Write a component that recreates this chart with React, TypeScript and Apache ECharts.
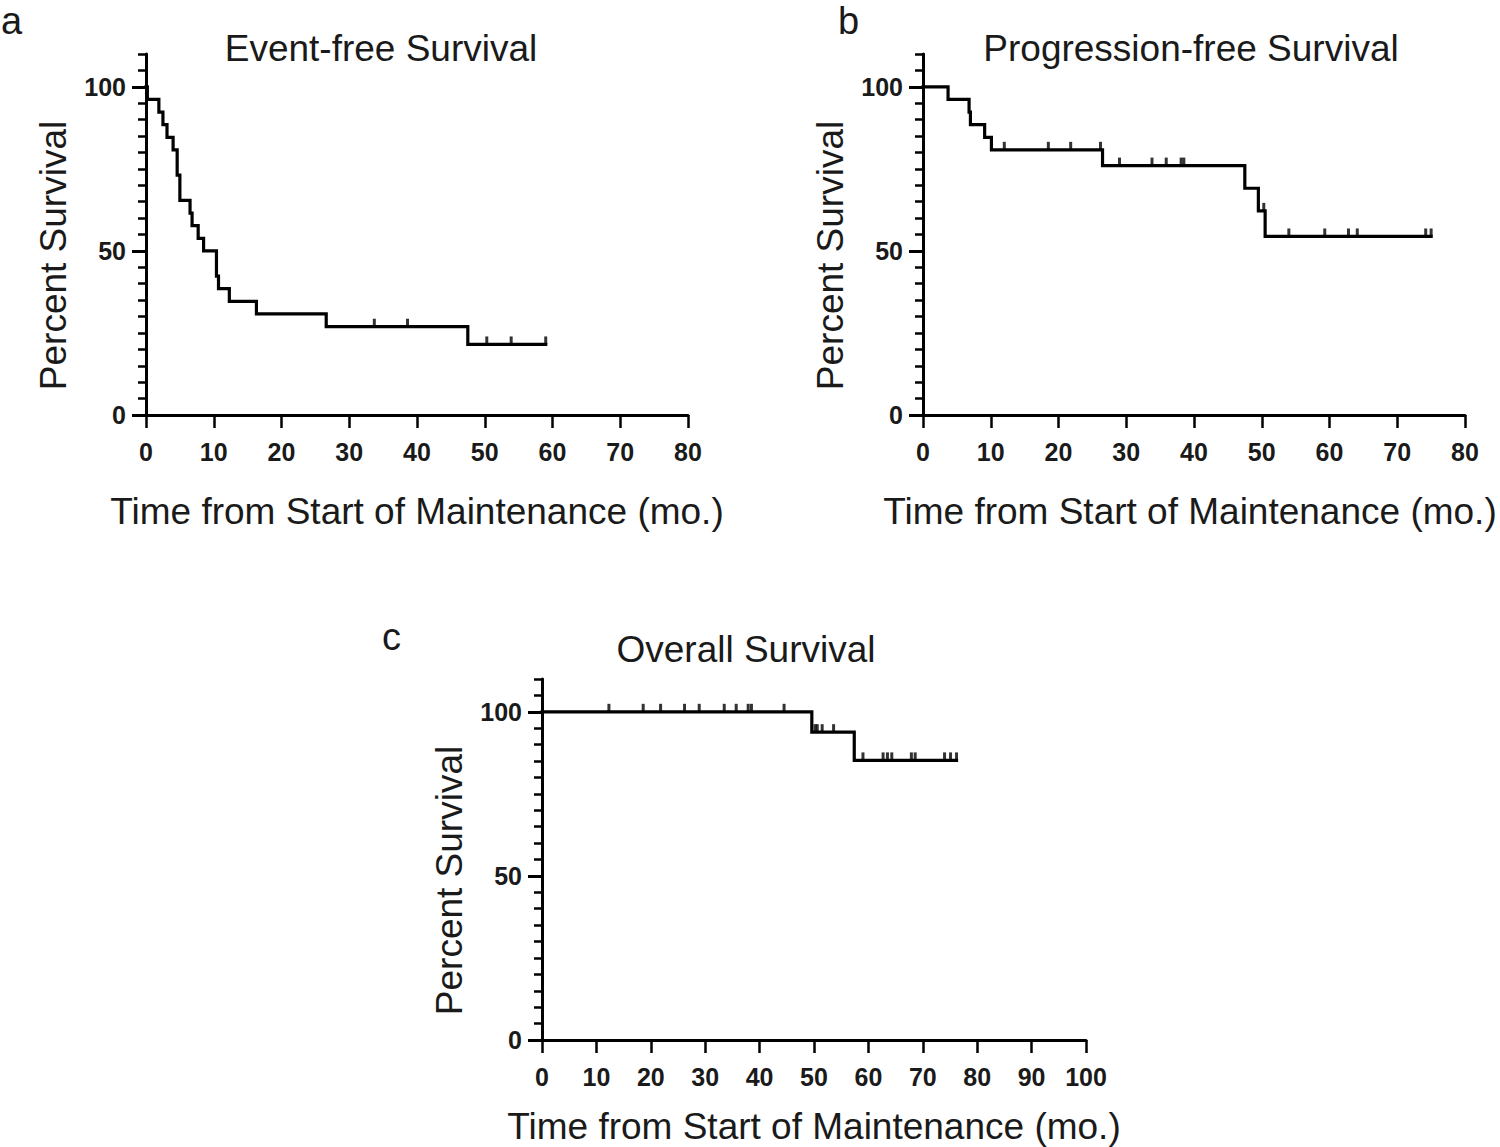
import React, { useEffect, useRef } from "react";
import * as echarts from "echarts";

// ---- Data ----
// a: Event-free survival (step points: time in months, percent surviving after that time)
const efsTimes = [0, 0.2, 1.9, 2.5, 3.1, 4.0, 4.6, 5.0, 6.5, 6.8, 7.7, 8.5, 10.4, 10.7, 12.3, 16.3, 26.6, 47.5, 59.0];
const efsSurv = [100, 96.2, 92.3, 88.5, 84.6, 80.8, 73.1, 65.4, 61.5, 57.7, 53.8, 50.0, 42.3, 38.5, 34.6, 30.8, 26.9, 21.5, 21.5];
const efsCensorTimes = [33.7, 38.6, 50.3, 53.9, 59.0];
const efsCensorSurv = [26.9, 26.9, 21.5, 21.5, 21.5];

// b: Progression-free survival
const pfsTimes = [0, 3.7, 6.8, 7.0, 9.1, 10.1, 26.5, 47.5, 49.5, 50.5, 75.0];
const pfsSurv = [100, 96.2, 92.3, 88.5, 84.6, 80.8, 76.0, 69.1, 62.2, 54.4, 54.4];
const pfsCensorTimes = [12.0, 18.5, 21.8, 26.2, 29.0, 33.8, 35.9, 38.1, 38.5, 50.3, 54.0, 59.3, 62.8, 64.1, 74.2, 75.0];
const pfsCensorSurv = [80.8, 80.8, 80.8, 80.8, 76.0, 76.0, 76.0, 76.0, 76.0, 62.2, 54.4, 54.4, 54.4, 54.4, 54.4, 54.4];

// c: Overall survival
const osTimes = [0, 49.6, 57.4, 76.2];
const osSurv = [100, 93.8, 85.2, 85.2];
const osCensorTimes = [12.3, 18.6, 21.8, 26.2, 28.9, 33.5, 35.7, 37.9, 38.5, 44.5, 50.2, 50.6, 51.5, 53.6, 59.0, 62.7, 63.5, 64.3, 67.9, 68.6, 74.0, 75.1, 76.2];
const osCensorSurv = [100, 100, 100, 100, 100, 100, 100, 100, 100, 100, 93.8, 93.8, 93.8, 93.8, 85.2, 85.2, 85.2, 85.2, 85.2, 85.2, 85.2, 85.2, 85.2];

// axis ticks / labels
const yLabelValues = [0, 50, 100];
const yMax = 110;
const yMinorStep = 5;
const xStep = 10;
const xMaxAB = 80;
const xMaxC = 100;

const panelTitles = ["Event-free Survival", "Progression-free Survival", "Overall Survival"];
const panelLetters = ["a", "b", "c"];
const xAxisTitle = "Time from Start of Maintenance (mo.)";
const yAxisTitle = "Percent Survival";

const FONT = "'Liberation Sans', Arial, Helvetica, sans-serif";
const TEXT = "#1a1a1a";

const zip = (a: number[], b: number[]) => a.map((v, i) => [v, b[i]]);

export default function App() {
  const ref = useRef<HTMLDivElement>(null);

  useEffect(() => {
    if (!ref.current) return;
    const chart = echarts.init(ref.current, null, { renderer: "svg" });

    const grids = [
      { left: 146, top: 54, width: 542, height: 361 },
      { left: 923, top: 54, width: 542, height: 361 },
      { left: 542, top: 679, width: 544, height: 361 },
    ];
    const xMaxes = [xMaxAB, xMaxAB, xMaxC];
    const xNameGap = [78, 78, 68];
    const xNamePad = [[0, 0, 0, 0], [0, 8, 0, 0], [0, 0, 0, 0]];
    const curves = [zip(efsTimes, efsSurv), zip(pfsTimes, pfsSurv), zip(osTimes, osSurv)];
    const censors = [
      zip(efsCensorTimes, efsCensorSurv),
      zip(pfsCensorTimes, pfsCensorSurv),
      zip(osCensorTimes, osCensorSurv),
    ];
    const titleCenters = [
      { x: 381, y: 30 },
      { x: 1191, y: 30 },
      { x: 746, y: 631 },
    ];
    const letterPos = [
      { x: 1, y: 2 },
      { x: 838, y: 2 },
      { x: 382, y: 618 },
    ];

    const xAxes: any[] = [];
    const yAxes: any[] = [];
    const series: any[] = [];

    grids.forEach((g, i) => {
      xAxes.push({
        type: "value",
        gridIndex: i,
        min: 0,
        max: xMaxes[i],
        interval: xStep,
        name: xAxisTitle,
        nameLocation: "middle",
        nameGap: xNameGap[i],
        nameTextStyle: { fontFamily: FONT, fontSize: 37, color: TEXT, padding: xNamePad[i] },
        axisLine: { show: true, onZero: false, lineStyle: { color: "#000", width: 3 } },
        axisTick: { show: true, inside: false, length: 13, lineStyle: { color: "#000", width: 2.5 } },
        axisLabel: { fontFamily: FONT, fontSize: 25, fontWeight: "bold", color: TEXT, margin: 24 },
        splitLine: { show: false },
      });
      // minor-tick axis (carries labels, line and name)
      yAxes.push({
        type: "value",
        gridIndex: i,
        min: 0,
        max: yMax,
        interval: yMinorStep,
        name: yAxisTitle,
        nameLocation: "middle",
        nameGap: 74,
        nameTextStyle: { fontFamily: FONT, fontSize: 37, color: TEXT, padding: [0, 42, 0, 0] },
        axisLine: { show: true, onZero: false, lineStyle: { color: "#000", width: 3 } },
        axisTick: { show: true, inside: false, length: 8, lineStyle: { color: "#000", width: 2.5 } },
        axisLabel: {
          customValues: yLabelValues,
          fontFamily: FONT,
          fontSize: 25,
          fontWeight: "bold",
          color: TEXT,
          margin: 20,
        },
        splitLine: { show: false },
      });
      // major-tick overlay axis
      yAxes.push({
        type: "value",
        gridIndex: i,
        min: 0,
        max: yMax,
        interval: 50,
        position: "left",
        offset: 0,
        axisLine: { show: false },
        axisTick: { show: true, inside: false, length: 14, customValues: yLabelValues, lineStyle: { color: "#000", width: 3 } },
        axisLabel: { show: false },
        splitLine: { show: false },
      });

      series.push({
        type: "line",
        xAxisIndex: i,
        yAxisIndex: i * 2,
        step: "end",
        data: curves[i],
        showSymbol: false,
        symbol: "none",
        lineStyle: { color: "#000", width: 3.2, cap: "square", join: "miter" },
        z: 3,
      });
      series.push({
        type: "scatter",
        xAxisIndex: i,
        yAxisIndex: i * 2,
        data: censors[i],
        symbol: "rect",
        symbolSize: [3, 8],
        symbolOffset: [0, -4],
        itemStyle: { color: "#000" },
        z: 4,
      });
    });

    const option: any = {
      animation: false,
      backgroundColor: "#fff",
      title: panelTitles.map((t, i) => ({
        text: t,
        left: titleCenters[i].x,
        top: titleCenters[i].y,
        textAlign: "center",
        padding: 0,
        textStyle: { fontFamily: FONT, fontSize: 37, fontWeight: "normal", color: TEXT },
      })),
      grid: grids.map((g) => ({ ...g, containLabel: false, outerBoundsMode: "none" })),
      xAxis: xAxes,
      yAxis: yAxes,
      series,
      graphic: panelLetters.map((l, i) => ({
        type: "text",
        left: letterPos[i].x,
        top: letterPos[i].y,
        style: { text: l, fontFamily: FONT, fontSize: 38, lineHeight: 28, fill: TEXT },
      })),
    };

    chart.setOption(option);
    return () => chart.dispose();
  }, []);

  return <div ref={ref} style={{ width: 1500, height: 1147, position: "absolute", left: 0, top: 0 }} />;
}
